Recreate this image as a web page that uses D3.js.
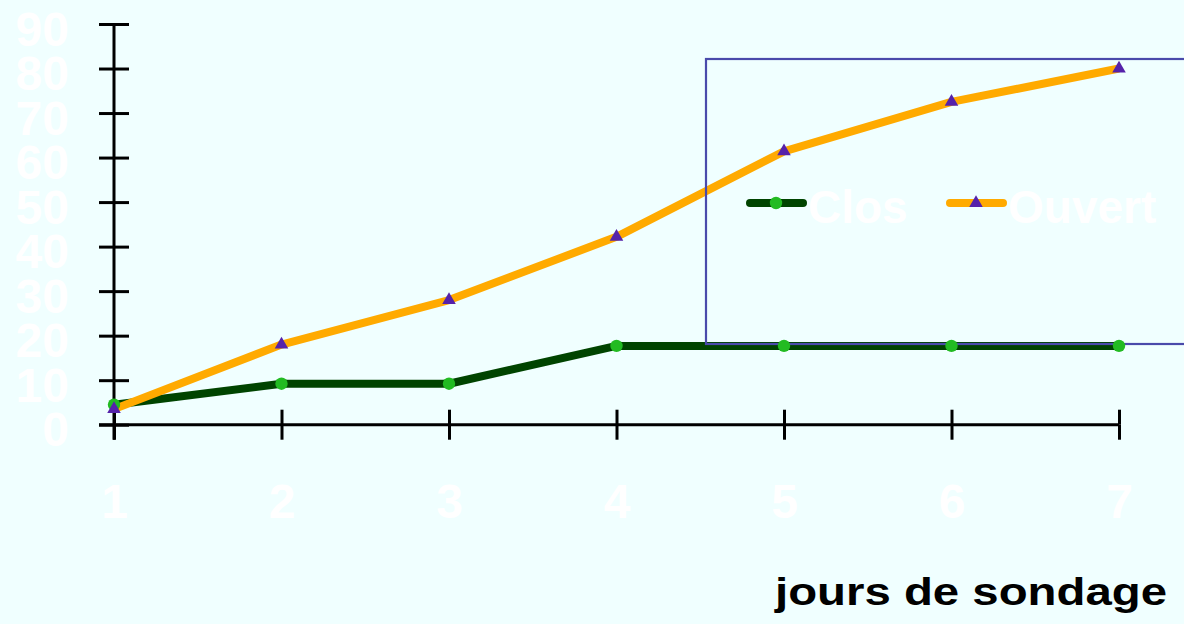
<!DOCTYPE html>
<html>
<head>
<meta charset="utf-8">
<script src="https://cdn.jsdelivr.net/npm/d3@7"></script>
<style>
  html, body { margin: 0; padding: 0; background: #f0ffff; }
  svg { display: block; }
  text { font-family: "Liberation Sans", Arial, sans-serif; font-weight: bold; }
</style>
</head>
<body>
<svg id="chart" width="1184" height="624"></svg>
<script>
// Survey days and cumulative counts per status
const days = [1, 2, 3, 4, 5, 6, 7];
const clos = [4.5, 9.2, 9.2, 17.7, 17.7, 17.7, 17.7];
const ouvert = [3.5, 18, 28, 42.2, 61.4, 72.5, 80];
const yTicks = [0, 10, 20, 30, 40, 50, 60, 70, 80, 90];
const seriesNames = ["Clos", "Ouvert"];
const xTitle = "jours de sondage";

const svg = d3.select("#chart");
svg.append("rect").attr("width", 1184).attr("height", 624).attr("fill", "#f0ffff");

const x = d3.scalePoint().domain(days).range([114, 1119]);
const y = d3.scaleLinear().domain([0, 90]).range([424.7, 24]);

const axisColor = "#000";

// Y axis: ticks crossing the axis line on both sides
const yAxisG = svg.append("g").attr("transform", `translate(${x(days[0])},0)`);
yAxisG.call(d3.axisLeft(y).tickValues(yTicks).tickSize(15).tickSizeOuter(0).tickPadding(30));
yAxisG.select(".domain").remove();
yAxisG.selectAll(".tick line").attr("stroke", axisColor).attr("stroke-width", 3);
yAxisG.selectAll(".tick text")
  .attr("fill", "#ffffff").attr("font-size", 48).attr("dy", "0.44em")
  .attr("font-family", "'Liberation Sans', Arial, sans-serif").attr("font-weight", "bold");
const yAxisR = svg.append("g").attr("transform", `translate(${x(days[0])},0)`);
yAxisR.call(d3.axisRight(y).tickValues(yTicks).tickSize(15).tickSizeOuter(0).tickFormat(""));
yAxisR.select(".domain").remove();
yAxisR.selectAll(".tick line").attr("stroke", axisColor).attr("stroke-width", 3);
svg.append("line")
  .attr("x1", x(days[0])).attr("x2", x(days[0]))
  .attr("y1", y(90)).attr("y2", y(0) + 15)
  .attr("stroke", axisColor).attr("stroke-width", 3);

// X axis
const xAxisG = svg.append("g").attr("transform", `translate(0,${y(0)})`);
xAxisG.call(d3.axisBottom(x).tickSize(15).tickSizeOuter(0).tickPadding(44));
xAxisG.select(".domain").remove();
xAxisG.selectAll(".tick line").attr("stroke", axisColor).attr("stroke-width", 3);
xAxisG.selectAll(".tick text")
  .attr("fill", "#ffffff").attr("font-size", 48)
  .attr("font-family", "'Liberation Sans', Arial, sans-serif").attr("font-weight", "bold");
const xAxisT = svg.append("g").attr("transform", `translate(0,${y(0)})`);
xAxisT.call(d3.axisTop(x).tickSize(15).tickSizeOuter(0).tickFormat(""));
xAxisT.select(".domain").remove();
xAxisT.selectAll(".tick line").attr("stroke", axisColor).attr("stroke-width", 3);
svg.append("line")
  .attr("x1", x(days[0]) - 15).attr("x2", x(days[days.length - 1]))
  .attr("y1", y(0)).attr("y2", y(0))
  .attr("stroke", axisColor).attr("stroke-width", 3);

// Axis title
svg.append("text")
  .attr("x", 775).attr("y", 605)
  .attr("font-size", 38).attr("fill", "#000")
  .attr("textLength", 392).attr("lengthAdjust", "spacingAndGlyphs")
  .text(xTitle);

// Series lines
const line = d3.line().x((d, i) => x(days[i])).y(d => y(d));
svg.append("path").datum(clos).attr("d", line)
  .attr("fill", "none").attr("stroke", "#004400").attr("stroke-width", 8).attr("stroke-linejoin", "round");
svg.append("path").datum(ouvert).attr("d", line)
  .attr("fill", "none").attr("stroke", "#ffaa00").attr("stroke-width", 8).attr("stroke-linejoin", "round");

// Legend frame
svg.append("rect")
  .attr("x", 706).attr("y", 59).attr("width", 500).attr("height", 285)
  .attr("fill", "none").attr("stroke", "#4a4aab").attr("stroke-width", 2.2);

// Markers
const tri = d3.symbol().type(d3.symbolTriangle).size(80);
svg.append("g").selectAll("circle").data(clos).join("circle")
  .attr("cx", (d, i) => x(days[i])).attr("cy", d => y(d)).attr("r", 6.2)
  .attr("fill", "#22bb22");
svg.append("g").selectAll("path").data(ouvert).join("path")
  .attr("d", tri)
  .attr("transform", (d, i) => `translate(${x(days[i])},${y(d)})`)
  .attr("fill", "#5522aa");

// Legend entries
const legend = svg.append("g");
legend.append("line").attr("x1", 750).attr("x2", 803).attr("y1", 203).attr("y2", 203)
  .attr("stroke", "#004400").attr("stroke-width", 8).attr("stroke-linecap", "round");
legend.append("circle").attr("cx", 776).attr("cy", 203).attr("r", 6.2).attr("fill", "#22bb22");
legend.append("text").attr("x", 808).attr("y", 223).attr("font-size", 46).attr("fill", "#ffffff")
  .text(seriesNames[0]);
legend.append("line").attr("x1", 950).attr("x2", 1003).attr("y1", 203).attr("y2", 203)
  .attr("stroke", "#ffaa00").attr("stroke-width", 8).attr("stroke-linecap", "round");
legend.append("path").attr("d", tri).attr("transform", "translate(976,203)").attr("fill", "#5522aa");
legend.append("text").attr("x", 1008).attr("y", 223).attr("font-size", 46).attr("fill", "#ffffff")
  .text(seriesNames[1]);
</script>
</body>
</html>
